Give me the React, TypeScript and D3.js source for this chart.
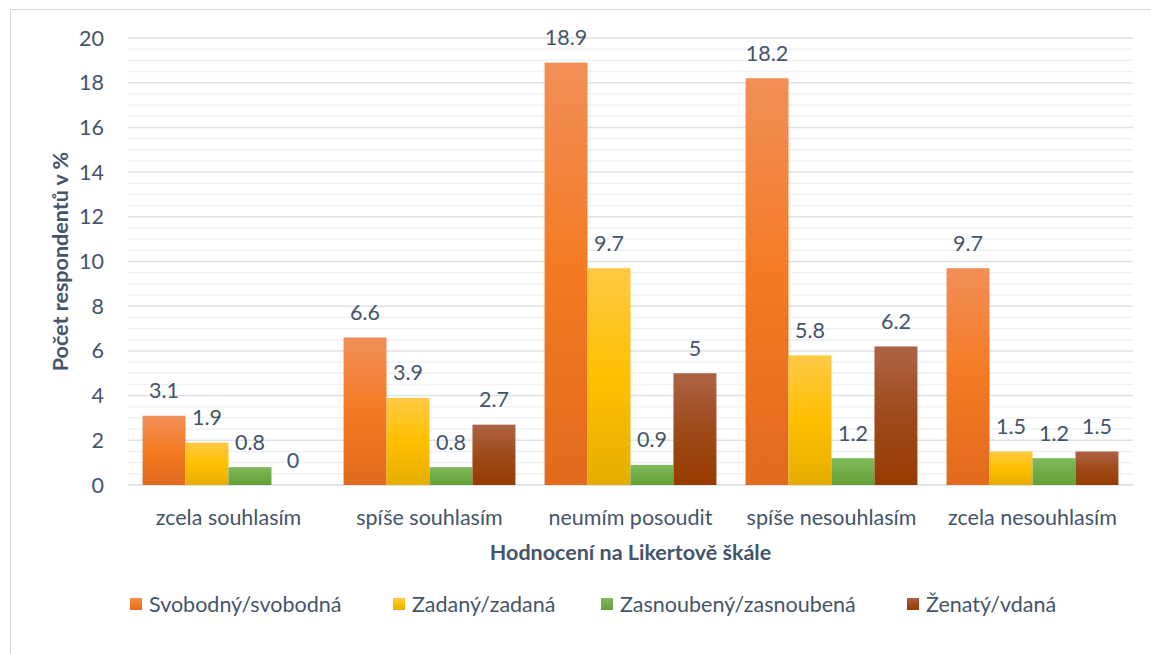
import * as d3 from "d3";

// categories on the Likert scale
const categories = [
  "zcela souhlasím",
  "spíše souhlasím",
  "neumím posoudit",
  "spíše nesouhlasím",
  "zcela nesouhlasím",
];

const seriesNames = [
  "Svobodný/svobodná",
  "Zadaný/zadaná",
  "Zasnoubený/zasnoubená",
  "Ženatý/vdaná",
];

// values per series, in percent
const svobodny = [3.1, 6.6, 18.9, 18.2, 9.7];
const zadany = [1.9, 3.9, 9.7, 5.8, 1.5];
const zasnoubeny = [0.8, 0.8, 0.9, 1.2, 1.2];
const zenaty = [0, 2.7, 5, 6.2, 1.5];

const yTicks = [0, 2, 4, 6, 8, 10, 12, 14, 16, 18, 20];

const seriesValues = [svobodny, zadany, zasnoubeny, zenaty];

// gradient stops (top, middle, bottom) for each series
const gradients = [
  ["#F28F57", "#F47A22", "#E16A1D"],
  ["#FFC944", "#FFC000", "#E5AD00"],
  ["#7FBA5F", "#70AD47", "#64A035"],
  ["#AD6445", "#9E4A1A", "#963C00"],
];

const W = 1151;
const H = 654;
const m = { left: 128, right: 1133, top: 38, bottom: 485 };
const textColor = "#44546A";
const font = "Lato, 'Open Sans', sans-serif";
const fs = 21.5;

export default function App() {
  const x0 = d3.scaleBand<string>().domain(categories).range([m.left, m.right]).paddingInner(0.145).paddingOuter(0.0725);
  const x1 = d3.scaleBand<number>().domain(d3.range(seriesNames.length)).range([0, x0.bandwidth()]);
  const y = d3.scaleLinear().domain([0, 20]).range([m.bottom, m.top]);
  const minor = d3.range(0, 20.01, 0.5).filter((v) => v % 2 !== 0);

  const legendX = [130, 393, 601, 907];

  return (
    <svg width={W} height={H} style={{ position: "absolute", left: 0, top: 0, background: "#fff" }} fontFamily={font}>
      <defs>
        {gradients.map((g, i) => (
          <linearGradient key={i} id={`grad${i}`} x1="0" y1="0" x2="0" y2="1">
            <stop offset="0%" stopColor={g[0]} />
            <stop offset="50%" stopColor={g[1]} />
            <stop offset="100%" stopColor={g[2]} />
          </linearGradient>
        ))}
      </defs>
      <rect x={10.5} y={9.5} width={W + 10} height={H + 10} fill="none" stroke="#D9D9D9" />

      {/* gridlines */}
      {minor.map((v) => (
        <line key={"m" + v} x1={m.left} x2={m.right} y1={y(v)} y2={y(v)} stroke="#EEF0F4" strokeWidth={1.3} />
      ))}
      {yTicks.map((v) => (
        <line key={"g" + v} x1={m.left} x2={m.right} y1={y(v)} y2={y(v)} stroke={v === 0 ? "#D6DCE4" : "#DDE2E9"} strokeWidth={1.5} />
      ))}

      {/* y ticks */}
      {yTicks.map((v) => (
        <text key={"t" + v} x={104} y={y(v)} dy="0.35em" textAnchor="end" fontSize={fs} fill={textColor}>
          {v}
        </text>
      ))}

      {/* bars */}
      {categories.map((c, ci) => (
        <g key={c} transform={`translate(${x0(c)},0)`}>
          {seriesValues.map((vals, si) => {
            const v = vals[ci];
            const bx = x1(si)!;
            return (
              <g key={si}>
                {v > 0 && (
                  <rect x={bx} y={y(v)} width={x1.bandwidth()} height={y(0) - y(v)} fill={`url(#grad${si})`} />
                )}
                <text x={bx + x1.bandwidth() / 2} y={y(v) - 25} dy="0.35em" textAnchor="middle" fontSize={fs} fill={textColor}>
                  {v}
                </text>
              </g>
            );
          })}
          <text x={x0.bandwidth() / 2} y={517} dy="0.35em" textAnchor="middle" fontSize={fs} fill={textColor}>
            {c}
          </text>
        </g>
      ))}

      {/* axis titles */}
      <text x={(m.left + m.right) / 2} y={552} dy="0.35em" textAnchor="middle" fontSize={21.5} fontWeight="bold" fill={textColor}>
        Hodnocení na Likertově škále
      </text>
      <text transform={`translate(60,${(m.top + m.bottom) / 2}) rotate(-90)`} dy="0.35em" textAnchor="middle" fontSize={21.5} fontWeight="bold" fill={textColor}>
        Počet respondentů v %
      </text>

      {/* legend */}
      {seriesNames.map((n, i) => (
        <g key={n} transform={`translate(${legendX[i]},604)`}>
          <rect x={0} y={-6} width={12} height={12} fill={`url(#grad${i})`} />
          <text x={19} y={0} dy="0.35em" fontSize={fs} fill={textColor}>
            {n}
          </text>
        </g>
      ))}
    </svg>
  );
}
